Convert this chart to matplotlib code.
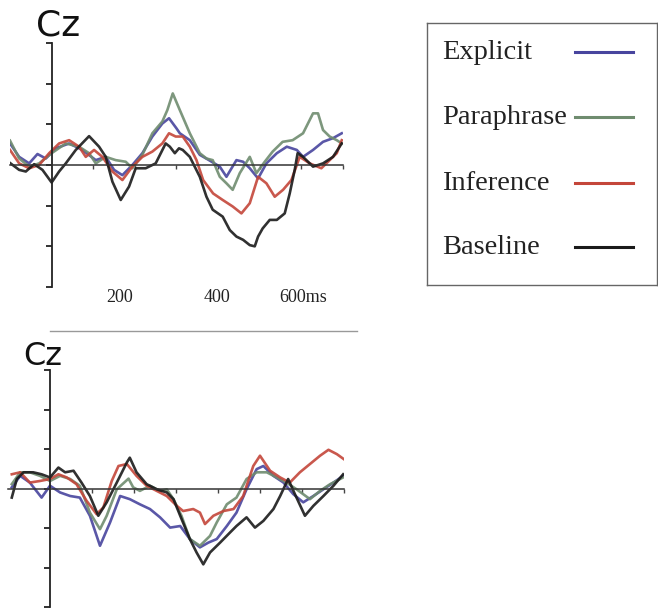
import matplotlib.pyplot as plt
from matplotlib.lines import Line2D

labels = ['Explicit', 'Paraphrase', 'Inference', 'Baseline']
colors = ['#48459e', '#6f8c6f', '#c4463a', '#1a1a1a']

# ---- top panel (Cz, first comparison), time in ms, amplitude in tick units
top_t_explicit = [-100, -78, -54, -34, -14, 10, 42, 74, 106, 130, 150, 170, 194, 218, 242, 266, 282, 300, 308, 332,
                  356, 378, 404, 420, 444, 460, 476, 496, 516, 541, 565, 589, 604, 628, 652, 676, 697]
top_explicit = [0.53, 0.2, 0.04, 0.27, 0.16, 0.41, 0.53, 0.37, 0.12, 0.2, -0.12, -0.25, 0.0, 0.29, 0.7, 1.02, 1.15, 0.9, 0.78, 0.61,
                0.25, 0.12, -0.04, -0.29, 0.12, 0.08, -0.08, -0.33, 0.04, 0.29, 0.45, 0.37, 0.2, 0.37, 0.57, 0.66, 0.78]

top_t_paraphrase = [-100, -78, -54, -30, 0, 34, 66, 90, 106, 130, 154, 178, 194, 218, 242, 266, 278, 291, 308, 332,
                    356, 372, 387, 404, 420, 435, 452, 476, 492, 512, 531, 555, 579, 604, 628, 640, 652, 668, 685, 697]
top_paraphrase = [0.6, 0.16, -0.04, 0.04, 0.29, 0.53, 0.45, 0.29, 0.04, 0.2, 0.12, 0.08, -0.08, 0.25, 0.78, 1.07, 1.35, 1.76, 1.35, 0.78,
                  0.29, 0.16, 0.12, -0.29, -0.45, -0.61, -0.2, 0.2, -0.2, 0.08, 0.33, 0.57, 0.61, 0.78, 1.27, 1.27, 0.86, 0.7, 0.61, 0.53]

top_t_inference = [-100, -78, -54, -30, -6, 18, 42, 66, 82, 102, 122, 146, 170, 194, 218, 242, 266, 282, 298, 315,
                   332, 348, 364, 388, 411, 435, 456, 476, 496, 516, 536, 556, 576, 596, 620, 648, 668, 685, 697]
top_inference = [0.37, 0.04, -0.08, 0.0, 0.29, 0.53, 0.61, 0.45, 0.2, 0.37, 0.2, -0.16, -0.37, -0.04, 0.2, 0.33, 0.53, 0.78, 0.7, 0.7,
                 0.45, 0.12, -0.37, -0.7, -0.86, -1.02, -1.19, -0.94, -0.29, -0.45, -0.78, -0.61, -0.37, 0.2, 0.04, -0.08, 0.12, 0.29, 0.61]

top_t_baseline = [-100, -78, -62, -42, -22, 0, 18, 34, 58, 90, 114, 130, 146, 166, 186, 202, 226, 250, 274, 284,
                  296, 306, 315, 332, 356, 372, 387, 411, 428, 444, 460, 476, 488, 496, 507, 524, 541, 560, 572, 584,
                  591, 604, 628, 652, 676, 697]
top_baseline = [0.05, -0.12, -0.16, 0.02, -0.12, -0.43, -0.16, 0.04, 0.37, 0.71, 0.45, 0.2, -0.41, -0.86, -0.53, -0.08, -0.08, 0.04, 0.53, 0.45,
                0.29, 0.41, 0.37, 0.2, -0.29, -0.78, -1.1, -1.27, -1.6, -1.76, -1.84, -1.97, -2.0, -1.76, -1.56, -1.35, -1.35, -1.19, -0.7, -0.12,
                0.29, 0.2, -0.04, 0.04, 0.2, 0.53]

# ---- bottom panel (Cz, second comparison)
bot_t_explicit = [-91, -71, -48, -20, 0, 24, 48, 71, 95, 119, 143, 167, 190, 214, 238, 262, 286, 310, 333, 357,
                  377, 397, 421, 444, 468, 492, 508, 532, 556, 579, 603, 627, 651, 675, 698]
bot_explicit = [0.03, 0.32, 0.15, -0.23, 0.07, -0.1, -0.19, -0.23, -0.69, -1.45, -0.86, -0.19, -0.27, -0.4, -0.52, -0.73, -0.99, -0.95, -1.28, -1.49,
                -1.37, -1.28, -0.95, -0.61, -0.02, 0.49, 0.57, 0.32, 0.15, -0.14, -0.35, -0.19, -0.02, 0.15, 0.32]

bot_t_paraphrase = [-91, -71, -48, -24, 0, 24, 48, 71, 95, 119, 135, 159, 187, 198, 214, 238, 262, 278, 294, 313,
                    333, 357, 381, 397, 421, 444, 468, 492, 516, 540, 563, 587, 619, 643, 667, 698]
bot_paraphrase = [0.11, 0.41, 0.41, 0.32, 0.19, 0.32, 0.24, 0.07, -0.61, -1.03, -0.69, -0.02, 0.25, 0.03, -0.06, 0.07, -0.06, -0.02, -0.27, -0.69,
                  -1.28, -1.45, -1.2, -0.86, -0.4, -0.23, 0.24, 0.41, 0.41, 0.28, 0.15, -0.02, -0.27, -0.06, 0.11, 0.28]

bot_t_inference = [-91, -71, -48, -24, 0, 20, 40, 63, 87, 111, 127, 147, 163, 183, 206, 230, 254, 278, 302, 317,
                   341, 357, 369, 389, 413, 437, 460, 484, 500, 524, 548, 571, 595, 619, 643, 663, 683, 700]
bot_inference = [0.36, 0.41, 0.15, 0.19, 0.24, 0.36, 0.28, 0.11, -0.31, -0.65, -0.48, 0.19, 0.57, 0.62, 0.32, 0.07, -0.06, -0.19, -0.44, -0.57,
                 -0.52, -0.61, -0.9, -0.69, -0.57, -0.52, -0.19, 0.57, 0.83, 0.45, 0.28, 0.15, 0.41, 0.62, 0.83, 0.98, 0.87, 0.74]

bot_t_baseline = [-91, -79, -63, -40, -20, 0, 20, 36, 56, 75, 95, 115, 135, 159, 183, 190, 206, 230, 254, 278,
                  294, 310, 333, 349, 365, 381, 405, 429, 444, 468, 488, 508, 532, 548, 567, 583, 607, 627, 651, 675, 698]
bot_baseline = [-0.23, 0.24, 0.41, 0.41, 0.36, 0.28, 0.53, 0.41, 0.45, 0.15, -0.19, -0.69, -0.35, 0.15, 0.66, 0.78, 0.41, 0.11, -0.02, -0.1,
                -0.27, -0.69, -1.28, -1.62, -1.92, -1.62, -1.37, -1.11, -0.95, -0.73, -0.99, -0.82, -0.52, -0.19, 0.24, -0.14, -0.69, -0.44, -0.19, 0.07, 0.36]

top_series = [(top_t_explicit, top_explicit), (top_t_paraphrase, top_paraphrase),
              (top_t_inference, top_inference), (top_t_baseline, top_baseline)]
bot_series = [(bot_t_explicit, bot_explicit), (bot_t_paraphrase, bot_paraphrase),
              (bot_t_inference, bot_inference), (bot_t_baseline, bot_baseline)]

time_labels = ['200', '400', '600ms']
time_label_pos = [163, 397, 548]

W, H = 658, 611
fig = plt.figure(figsize=(W / 100, H / 100), dpi=100)


def erp_axes(rect):
    ax = fig.add_axes(rect)
    ax.set_xlim(-100, 700)
    ax.set_ylim(-3, 3)
    ax.patch.set_visible(False)
    ax.spines['top'].set_visible(False)
    ax.spines['right'].set_visible(False)
    ax.spines['left'].set_position(('data', 0))
    ax.spines['bottom'].set_position(('data', 0))
    ax.spines['left'].set_color('#222222')
    ax.spines['left'].set_linewidth(1.3)
    ax.spines['bottom'].set_color('#333333')
    ax.spines['bottom'].set_linewidth(1.1)
    ax.set_yticks(range(-3, 4))
    ax.set_yticklabels([])
    ax.set_xticks(range(100, 701, 100))
    ax.set_xticklabels([])
    ax.tick_params(axis='y', direction='out', length=4, width=1.3, color='#222222')
    ax.tick_params(axis='x', direction='out', length=3, width=1, color='#444444')
    return ax


ax1 = erp_axes([10 / W, 1 - 287 / H, 333 / W, 244 / H])
ax2 = erp_axes([8 / W, 1 - 607 / H, 336 / W, 237 / H])

for ax, series in [(ax1, top_series), (ax2, bot_series)]:
    for (t, v), c, lab in zip(series, colors, labels):
        ax.plot(t, v, color=c, lw=1.9, alpha=0.9, label=lab, solid_joinstyle='round')

for lab, pos in zip(time_labels, time_label_pos):
    ax1.text(pos, -3.25, lab, ha='center' if lab != '600ms' else 'left', va='center',
             fontfamily='Liberation Serif', fontsize=13, color='#222222', clip_on=False)

fig.text(36 / W, 1 - 35 / H, 'Cz', fontsize=26, color='#111111', va='baseline', ha='left')
fig.text(23 / W, 1 - 365 / H, 'Cz', fontsize=23, color='#111111', va='baseline', ha='left')

# separator line between the panels
fig.add_artist(Line2D([50 / W, 357 / W], [1 - 331 / H, 1 - 331 / H], color='#999999', lw=1))

# legend box
lg = fig.add_axes([427 / W, 1 - 285 / H, 230 / W, 262 / H])
lg.set_xticks([])
lg.set_yticks([])
for s in lg.spines.values():
    s.set_color('#666666')
    s.set_linewidth(1)
lg.set_xlim(0, 1)
lg.set_ylim(0, 1)
row_y = [0.889, 0.641, 0.389, 0.145]
for lab, c, y in zip(labels, colors, row_y):
    lg.text(0.065, y, lab, fontfamily='Liberation Serif', fontsize=20.5, color='#222222', va='center', ha='left')
    lg.plot([0.643, 0.896], [y, y], color=c, lw=2.2)

fig.savefig('out.png', dpi=100)
